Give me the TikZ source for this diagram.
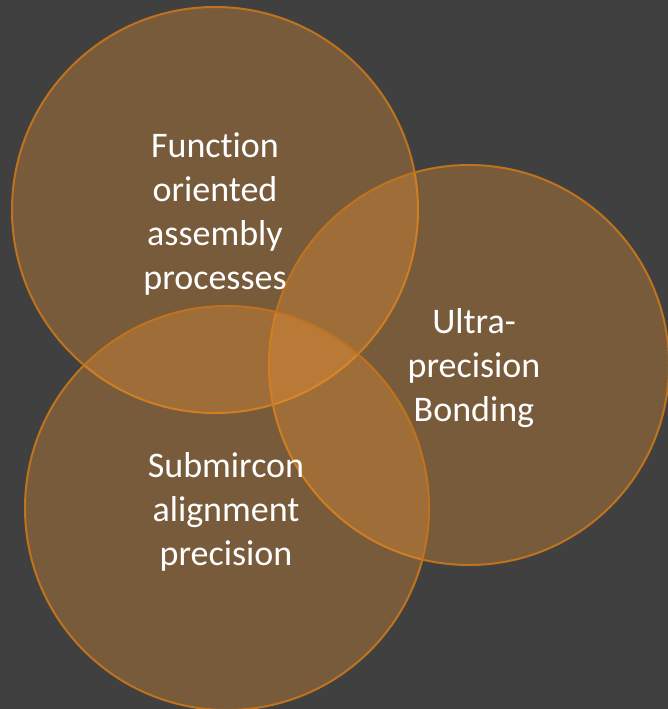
\documentclass[tikz,border=0pt]{standalone}
\usepackage{fontspec}
\setmainfont{Carlito}[Ligatures=NoCommon]
\definecolor{slide}{HTML}{404040}
\definecolor{amber}{RGB}{240,150,50}
\definecolor{amberline}{HTML}{C0731E}

\begin{document}
\begin{tikzpicture}[x=1pt, y=-1pt,
    disc/.style = {circle, draw=amberline, line width=2pt, fill=amber,
                   fill opacity=0.32, minimum size=#1, inner sep=0pt},
    topic/.style = {text=white, align=center, inner sep=0pt,
                    font=\fontsize{36}{44}\selectfont}]
    \useasboundingbox[fill=slide] (0,0) rectangle (668,709);
    % the three fields
    \node[disc=406pt] (fun)   at (215,210) {};
    \node[disc=400pt] (bond)  at (469,365) {};
    \node[disc=404pt] (align) at (227,508) {};
    % their titles
    \node[topic] (funtext)   at (215,214.5) {Function\\oriented\\assembly\\processes};
    \node[topic] (bondtext)  at (474,368)   {Ultra-\\precision\\Bonding};
    \node[topic] (aligntext) at (226,512)   {Submircon\\alignment\\precision};
\end{tikzpicture}
\end{document}
